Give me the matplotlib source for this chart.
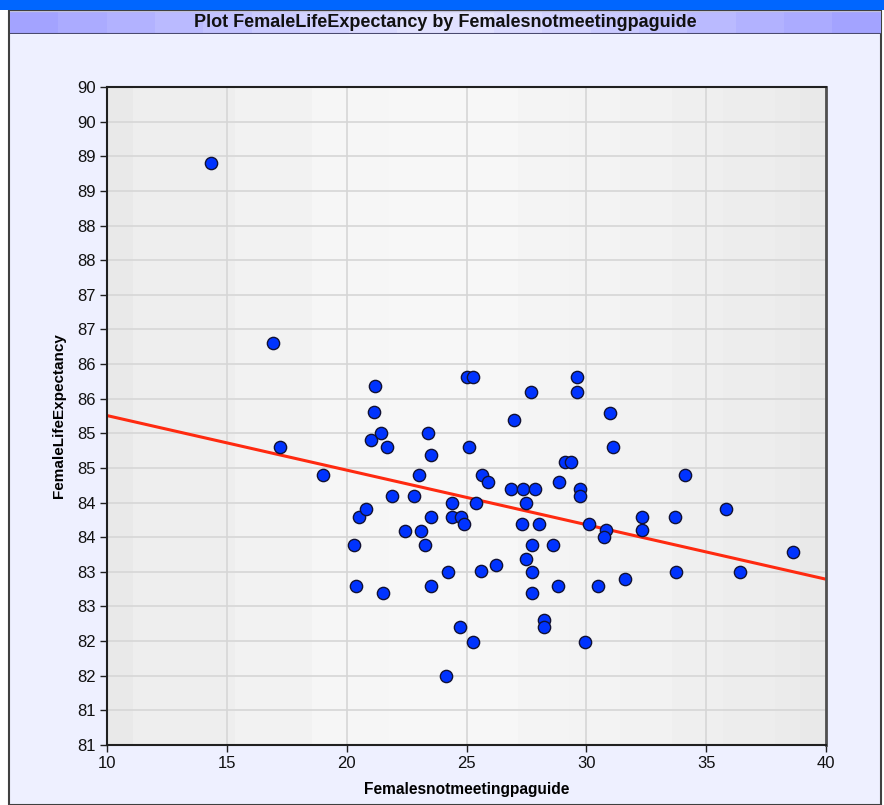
import numpy as np
import matplotlib
matplotlib.use("Agg")
import matplotlib.pyplot as plt
from matplotlib.patches import Rectangle

# data
females_not_meeting = [
    14.34, 16.93, 17.22, 19.01, 20.30, 20.39, 20.51, 20.80, 21.01, 21.18,
    21.14, 21.43, 21.51, 21.68, 21.89, 22.43, 22.81, 23.02, 23.10, 23.27,
    23.39, 23.52, 23.52, 23.52, 24.23, 24.39, 24.39, 24.77, 24.89, 24.73,
    24.13, 25.27, 25.39, 25.01, 25.29, 25.12, 25.63, 25.91, 25.62, 26.22,
    26.84, 27.37, 27.49, 27.33, 26.99, 27.70, 29.61, 29.61, 31.00, 31.11,
    29.12, 29.35, 34.10, 27.84, 28.88, 29.72, 29.72, 35.81, 28.01, 30.10,
    32.32, 33.70, 32.32, 30.83, 30.72, 27.72, 28.62, 27.49, 27.72, 33.73,
    36.42, 38.63, 28.83, 30.48, 31.60, 27.72, 28.22, 28.22, 29.95,
]
female_life_exp = [
    89.40, 86.80, 85.30, 84.90, 83.89, 83.30, 84.29, 84.41, 85.40, 86.18,
    85.81, 85.50, 83.19, 85.30, 84.60, 84.09, 84.60, 84.90, 84.09, 83.89,
    85.50, 84.29, 83.30, 85.19, 83.50, 84.49, 84.29, 84.29, 84.19, 82.70,
    82.00, 82.49, 84.49, 86.31, 86.31, 85.30, 84.90, 84.79, 83.51, 83.60,
    84.70, 84.70, 84.50, 84.19, 85.69, 86.09, 86.31, 86.09, 85.80, 85.30,
    85.09, 85.09, 84.90, 84.70, 84.79, 84.70, 84.60, 84.41, 84.19, 84.19,
    84.29, 84.29, 84.10, 84.10, 84.00, 83.89, 83.89, 83.69, 83.50, 83.50,
    83.50, 83.79, 83.29, 83.29, 83.39, 83.19, 82.80, 82.70, 82.49,
]

x_ticks = [10, 15, 20, 25, 30, 35, 40]
y_ticks = [81.0, 81.5, 82.0, 82.5, 83.0, 83.5, 84.0, 84.5, 85.0, 85.5,
           86.0, 86.5, 87.0, 87.5, 88.0, 88.5, 89.0, 89.5, 90.0, 90.5]
y_labels = ["81", "81", "82", "82", "83", "83", "84", "84", "85", "85",
            "86", "86", "87", "87", "88", "88", "89", "89", "90", "90"]

title = "Plot FemaleLifeExpectancy by Femalesnotmeetingpaguide"
x_label = "Femalesnotmeetingpaguide"
y_label = "FemaleLifeExpectancy"

plt.rcParams['font.family'] = ['Liberation Sans', 'DejaVu Sans']

W, H = 884, 805
fig = plt.figure(figsize=(W / 100, H / 100), dpi=100, facecolor="white")

def fx(px):
    return px / W

def fy(py):
    return 1 - py / H

# outer panel and top bar
fig.patches.append(Rectangle((fx(9), 0), fx(872), fy(11), transform=fig.transFigure,
                             facecolor="#eef0ff", edgecolor="#404040", lw=1.5, zorder=-10))
fig.patches.append(Rectangle((0, fy(10)), 1, 10 / H, transform=fig.transFigure,
                             facecolor="#0066ff", edgecolor="none", zorder=-5))

# title bar with banded gradient
tax = fig.add_axes([fx(10), fy(34), fx(871), 23 / H])
t = np.linspace(0, 1, 18)
shade = 1 - np.abs(t - 0.5) * 2
bar = np.zeros((1, len(t), 3))
lo = np.array([0.64, 0.64, 1.0])
hi = np.array([0.90, 0.90, 1.0])
for i, s in enumerate(shade):
    bar[0, i] = lo + (hi - lo) * s
tax.imshow(bar, aspect="auto", extent=[0, 1, 0, 1], interpolation="nearest")
tax.set_xlim(0, 1)
tax.set_ylim(0, 1)
tax.set_xticks([])
tax.set_yticks([])
for k, sp in tax.spines.items():
    sp.set_visible(False)
tax.axhline(0.02, color="#4a4a70", lw=1.5)
tax.axhline(0.98, color="#c0c0d8", lw=1)
tax.text(0.5, 0.5, title, ha="center", va="center", fontsize=13, fontweight="bold",
         color="#111111")

# main plot
ax = fig.add_axes([fx(107), fy(745), fx(719), 658 / H])
ax.set_xlim(10, 40)
ax.set_ylim(81.0, 90.5)

# vertical band shading of plot area
greys = [0.915, 0.935, 0.935, 0.935, 0.935, 0.95, 0.95, 0.95, 0.965, 0.965,
         0.965, 0.97, 0.97, 0.97, 0.97, 0.97, 0.96, 0.96, 0.955, 0.955,
         0.95, 0.95, 0.94, 0.94, 0.93, 0.93, 0.925, 0.915]
bg = np.array(greys)[None, :, None] * np.ones((1, 1, 3))
ax.imshow(bg, aspect="auto", extent=[10, 40, 81.0, 90.5], interpolation="nearest", zorder=0)

ax.set_xticks(x_ticks)
ax.set_yticks(y_ticks)
ax.set_yticklabels(y_labels)
ax.grid(True, color="#d6d6d6", lw=1.2, zorder=1)
ax.set_axisbelow(True)

ax.scatter(females_not_meeting, female_life_exp, s=78, c="#0033ff",
           edgecolors="#111133", linewidths=1.0, zorder=3)

# least squares fit
coef = np.polyfit(females_not_meeting, female_life_exp, 1)
xs = np.array([10, 40])
ax.plot(xs, np.polyval(coef, xs), color="#ff2a10", lw=2.2, zorder=2)

for k in ["left", "bottom", "top"]:
    ax.spines[k].set_color("#202020")
    ax.spines[k].set_linewidth(1.5)
ax.spines["right"].set_color("#505050")
ax.spines["right"].set_linewidth(2)

ax.tick_params(direction="out", length=5, width=1, color="#202020",
               labelsize=12, labelcolor="#111111", pad=3)

ax.set_xlabel(x_label, fontsize=11.2, fontweight="bold", labelpad=8)
ax.set_ylabel(y_label, fontsize=11, fontweight="bold", labelpad=8)

fig.savefig("out.png", dpi=100, facecolor="white")
